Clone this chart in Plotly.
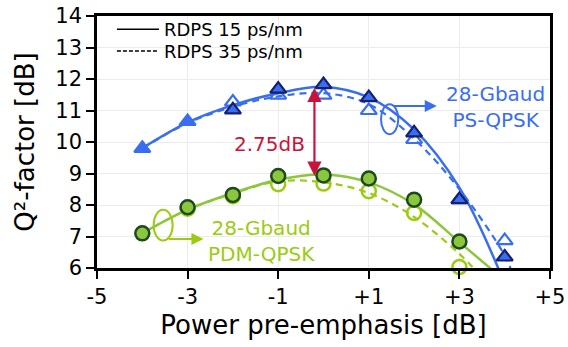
import plotly.graph_objects as go

# ---------------- data ----------------
ps_x = [-4, -3, -2, -1, 0, 1, 2, 3, 4]
ps_rdps15 = [9.8, 10.65, 11.02, 11.68, 11.82, 11.41, 10.29, 8.17, 6.35]
ps35_x = [-2, -1, 0, 1, 2, 3, 4]
ps_rdps35 = [11.27, 11.49, 11.49, 11.0, 10.08, 8.17, 6.87]

pdm_x = [-4, -3, -2, -1, 0, 1, 2, 3]
pdm_rdps15 = [7.1, 7.93, 8.32, 8.92, 8.94, 8.84, 8.17, 6.84]
pdm35_x = [-3, -2, -1, 0, 1, 2, 3]
pdm_rdps35 = [7.88, 8.28, 8.66, 8.68, 8.44, 7.75, 6.03]

# fitted trend curves
ps_fit15_x = [-4, -3, -2, -1, 0, 1, 2, 3, 3.9]
ps_fit15_y = [9.8, 10.62, 11.17, 11.55, 11.75, 11.42, 10.4, 8.55, 5.85]
ps_fit35_x = [-4, -3, -2, -1, 0, 1, 2, 3, 4, 4.15]
ps_fit35_y = [9.8, 10.6, 11.12, 11.45, 11.55, 11.2, 10.1, 8.5, 6.4, 5.9]
pdm_fit15_x = [-4, -3, -2, -1, 0, 1, 2, 3, 3.8]
pdm_fit15_y = [7.1, 7.85, 8.38, 8.8, 8.97, 8.72, 8.02, 6.82, 5.85]
pdm_fit35_x = [-4, -3, -2, -1, 0, 1, 2, 3, 3.4]
pdm_fit35_y = [7.1, 7.85, 8.36, 8.75, 8.72, 8.38, 7.62, 6.45, 5.85]

gap_x = -0.2
gap_top = 11.72
gap_bottom = 8.88
gap_label = "2.75dB"

x_tick_vals = [-5, -3, -1, 1, 3, 5]
x_tick_text = ["-5", "-3", "-1", "+1", "+3", "+5"]
y_tick_vals = [6, 7, 8, 9, 10, 11, 12, 13, 14]

legend_names = ["RDPS 15 ps/nm", "RDPS 35 ps/nm"]

# ---------------- styles ----------------
BLUE = "#3a6ef0"
NAVY = "#15206e"
GREEN = "#8cc63f"
GREEN_L = "#9ccb12"
DKGREEN = "#1c4a1c"
RED = "#c8143c"
FONT = "DejaVu Sans"

fig = go.Figure()

# legend entries (black lines), one legend box per row
fig.add_trace(go.Scatter(x=[None], y=[None], mode="lines", name=legend_names[0], legend="legend",
                         line=dict(color="black", width=1.5)))
fig.add_trace(go.Scatter(x=[None], y=[None], mode="lines", name=legend_names[1], legend="legend2",
                         line=dict(color="black", width=1.5, dash="4px,2px")))

# fit curves
fig.add_trace(go.Scatter(x=ps_fit35_x, y=ps_fit35_y, mode="lines", showlegend=False,
                         line=dict(color=BLUE, width=2.2, dash="7px,5px", shape="spline")))
fig.add_trace(go.Scatter(x=ps_fit15_x, y=ps_fit15_y, mode="lines", showlegend=False,
                         line=dict(color=BLUE, width=2.5, shape="spline")))
fig.add_trace(go.Scatter(x=pdm_fit35_x, y=pdm_fit35_y, mode="lines", showlegend=False,
                         line=dict(color=GREEN_L, width=2.2, dash="7px,5px", shape="spline")))
fig.add_trace(go.Scatter(x=pdm_fit15_x, y=pdm_fit15_y, mode="lines", showlegend=False,
                         line=dict(color=GREEN, width=2.5, shape="spline")))

# markers
fig.add_trace(go.Scatter(x=ps35_x, y=ps_rdps35, mode="markers", showlegend=False, cliponaxis=False,
                         marker=dict(symbol="triangle-up", size=14, color="rgba(255,255,255,0)",
                                     line=dict(color=BLUE, width=2.2))))
fig.add_trace(go.Scatter(x=ps_x, y=ps_rdps15, mode="markers", showlegend=False, cliponaxis=False,
                         marker=dict(symbol="triangle-up", size=14, color=BLUE,
                                     line=dict(color=[BLUE, BLUE] + [NAVY] * 7, width=2.2))))
fig.add_trace(go.Scatter(x=pdm35_x, y=pdm_rdps35, mode="markers", showlegend=False, cliponaxis=False,
                         marker=dict(symbol="circle", size=14, color="rgba(255,255,255,0)",
                                     line=dict(color=GREEN_L, width=2.5))))
fig.add_trace(go.Scatter(x=pdm_x, y=pdm_rdps15, mode="markers", showlegend=False, cliponaxis=False,
                         marker=dict(symbol="circle", size=14, color=GREEN,
                                     line=dict(color=DKGREEN, width=2.5))))

annotations = [
    # 2.75 dB double arrow
    dict(x=gap_x, y=gap_top, ax=gap_x, ay=gap_bottom, xref="x", yref="y", axref="x", ayref="y",
         text="", showarrow=True, arrowhead=2, startarrowhead=2, arrowside="end+start",
         arrowsize=1.3, arrowwidth=2.2, arrowcolor=RED, standoff=0, startstandoff=0),
    dict(x=-1.2, y=9.93, xref="x", yref="y", text=gap_label, showarrow=False,
         font=dict(family=FONT, size=20, color=RED)),
    # PS-QPSK label
    dict(x=2.5, y=11.14, ax=1.5, ay=11.14, xref="x", yref="y", axref="x", ayref="y",
         text="", showarrow=True, arrowhead=2, arrowsize=1.2, arrowwidth=2, arrowcolor=BLUE,
         standoff=0, startstandoff=0),
    dict(x=3.8, y=11.1, xref="x", yref="y", text="28-Gbaud<br>PS-QPSK", showarrow=False,
         font=dict(family=FONT, size=20, color=BLUE)),
    # PDM-QPSK label
    dict(x=-2.65, y=6.92, ax=-3.45, ay=6.92, xref="x", yref="y", axref="x", ayref="y",
         text="", showarrow=True, arrowhead=2, arrowsize=1.2, arrowwidth=2, arrowcolor=GREEN_L,
         standoff=0, startstandoff=0),
    dict(x=-1.36, y=6.86, xref="x", yref="y", text="28-Gbaud<br>PDM-QPSK", showarrow=False,
         font=dict(family=FONT, size=20, color=GREEN_L)),
]

shapes = [
    dict(type="circle", xref="x", yref="y", x0=1.27, x1=1.65, y0=10.25, y1=11.2,
         line=dict(color=BLUE, width=2)),
    dict(type="circle", xref="x", yref="y", x0=-3.75, x1=-3.33, y0=6.87, y1=7.85,
         line=dict(color=GREEN_L, width=2)),
]

legend_common = dict(x=0.033, xanchor="left", yanchor="middle", bgcolor="rgba(0,0,0,0)",
                     font=dict(family=FONT, size=18, color="black"), itemwidth=42)

fig.update_layout(
    width=568, height=347,
    margin=dict(l=97, r=18, t=11, b=79),
    paper_bgcolor="white", plot_bgcolor="white",
    font=dict(family=FONT, color="black"),
    annotations=annotations, shapes=shapes,
    showlegend=True,
    legend=dict(y=0.946, **legend_common),
    legend2=dict(y=0.86, **legend_common),
)
fig.update_xaxes(range=[-5, 5], tickvals=x_tick_vals, ticktext=x_tick_text, automargin=False,
                 ticklabeloverflow="allow",
                 showgrid=True, gridcolor="#ececec", gridwidth=1, zeroline=False,
                 showline=True, linecolor="black", linewidth=2.5, mirror=True,
                 ticks="outside", ticklen=8, tickwidth=2, tickcolor="black",
                 tickfont=dict(family=FONT, size=21, color="black"),
                 title=dict(text="Power pre-emphasis [dB]", font=dict(family=FONT, size=26), standoff=8))
fig.update_yaxes(range=[6, 14], tickvals=y_tick_vals, automargin=False,
                 ticklabeloverflow="allow",
                 showgrid=True, gridcolor="#ececec", gridwidth=1, zeroline=False,
                 showline=True, linecolor="black", linewidth=2.5, mirror=True,
                 ticks="outside", ticklen=8, tickwidth=2, tickcolor="black",
                 tickfont=dict(family=FONT, size=21, color="black"),
                 title=dict(text="Q²-factor [dB]", font=dict(family=FONT, size=26), standoff=14))

fig.write_html("out.html", config={"displayModeBar": False},
               post_script="document.body.style.margin='0';")
